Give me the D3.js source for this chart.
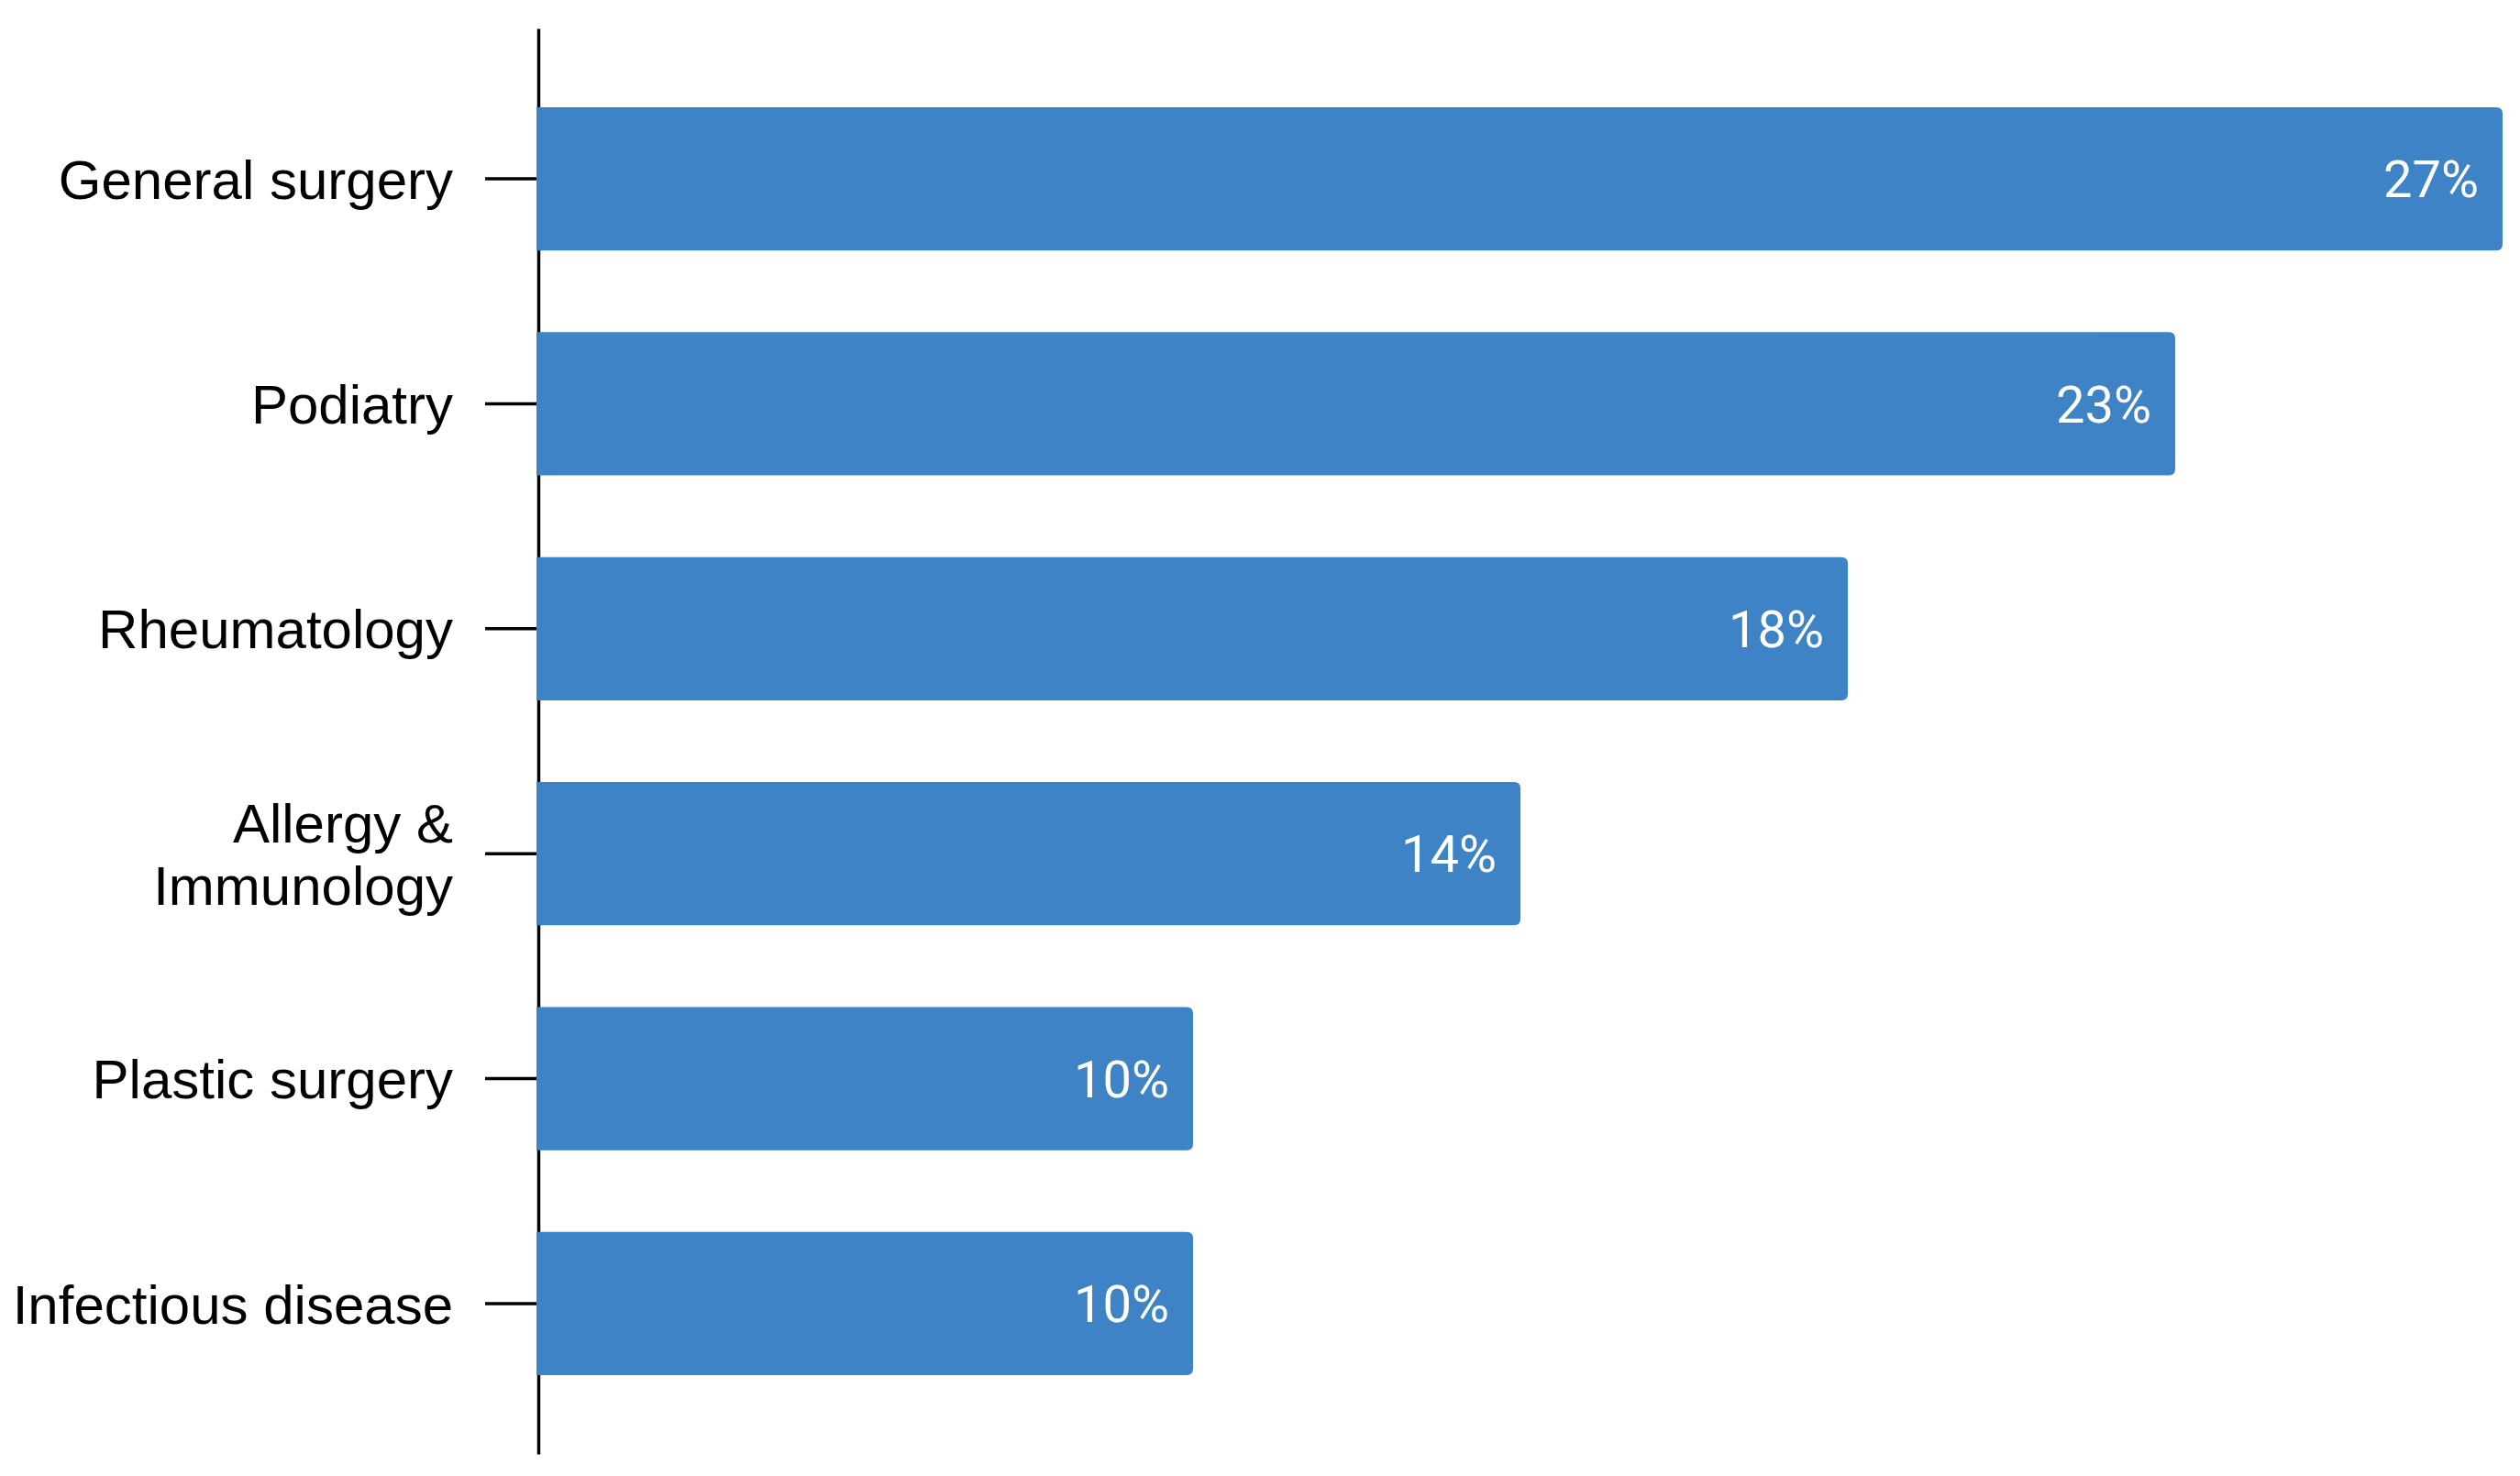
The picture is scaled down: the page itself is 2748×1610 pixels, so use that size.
<!DOCTYPE html>
<html>
<head>
<meta charset="utf-8">
<script src="https://cdn.jsdelivr.net/npm/d3@7"></script>
<style>
  html, body { margin: 0; padding: 0; background: #fff; }
  svg { display: block; }
  .axis .domain, .axis line { stroke: #000; stroke-width: 3.5px; }
  .cat { font-family: "Liberation Sans", Arial, sans-serif; font-size: 60px; fill: #000; }
  .val { font-family: Roboto, sans-serif; font-size: 56px; fill: #fff; }
</style>
</head>
<body>
<svg id="chart" width="2748" height="1610"></svg>
<script>
// categories top to bottom
const categories = ["General surgery", "Podiatry", "Rheumatology", "Allergy & Immunology", "Plastic surgery", "Infectious disease"];
// label lines (Allergy & Immunology wraps)
const categoryLines = [["General surgery"], ["Podiatry"], ["Rheumatology"], ["Allergy &", "Immunology"], ["Plastic surgery"], ["Infectious disease"]];
// bar lengths (percent)
const values = [27, 22.5, 18, 13.5, 9, 9];
// value labels printed in the bars
const valueLabels = ["27%", "23%", "18%", "14%", "10%", "10%"];

const svg = d3.select("#chart"),
	margin = {top: 31, right: 19, bottom: 24, left: 587},
	width = +svg.attr("width") - margin.left - margin.right,
	height = +svg.attr("height") - margin.top - margin.bottom,
	g = svg.append("g").attr("transform", "translate(" + margin.left + "," + margin.top + ")");

const x = d3.scaleLinear()
	.domain([0, d3.max(values)])
	.range([0, width]);

const y = d3.scaleBand()
	.domain(categories)
	.range([0, height])
	.paddingInner(0.363)
	.paddingOuter(0.35);

const data = categories.map((c, i) => ({cat: c, lines: categoryLines[i], value: values[i], label: valueLabels[i]}));

// axis with long ticks, labels drawn by hand so they can wrap
const axis = g.append("g")
	.attr("class", "axis")
	.call(d3.axisLeft(y).tickSize(58).tickSizeOuter(0).tickFormat(""));
axis.selectAll(".tick text").remove();

const lineH = 68;
const labels = g.append("g");
data.forEach(d => {
	const cy = y(d.cat) + y.bandwidth() / 2;
	const t = labels.append("text")
		.attr("class", "cat")
		.attr("text-anchor", "end")
		.attr("x", -93)
		.attr("y", cy);
	d.lines.forEach((ln, j) => {
		t.append("tspan")
			.attr("x", -93)
			.attr("y", cy + (j - (d.lines.length - 1) / 2) * lineH)
			.attr("dy", "0.36em")
			.text(ln);
	});
});

// bars with rounded right corners
const r = 7;
function barPath(d) {
	const x0 = x(0) - 2, x1 = x(d.value), y0 = y(d.cat), y1 = y0 + y.bandwidth();
	return "M" + x0 + "," + y0 +
		"H" + (x1 - r) +
		"Q" + x1 + "," + y0 + " " + x1 + "," + (y0 + r) +
		"V" + (y1 - r) +
		"Q" + x1 + "," + y1 + " " + (x1 - r) + "," + y1 +
		"H" + x0 + "Z";
}

g.append("g")
	.selectAll("path")
	.data(data)
	.join("path")
	.attr("d", barPath)
	.attr("fill", "#3d83c5");

g.append("g")
	.selectAll("text")
	.data(data)
	.join("text")
	.attr("class", "val")
	.attr("text-anchor", "end")
	.attr("x", d => x(d.value) - 26)
	.attr("y", d => y(d.cat) + y.bandwidth() / 2)
	.attr("dy", "0.36em")
	.text(d => d.label);
</script>
</body>
</html>
